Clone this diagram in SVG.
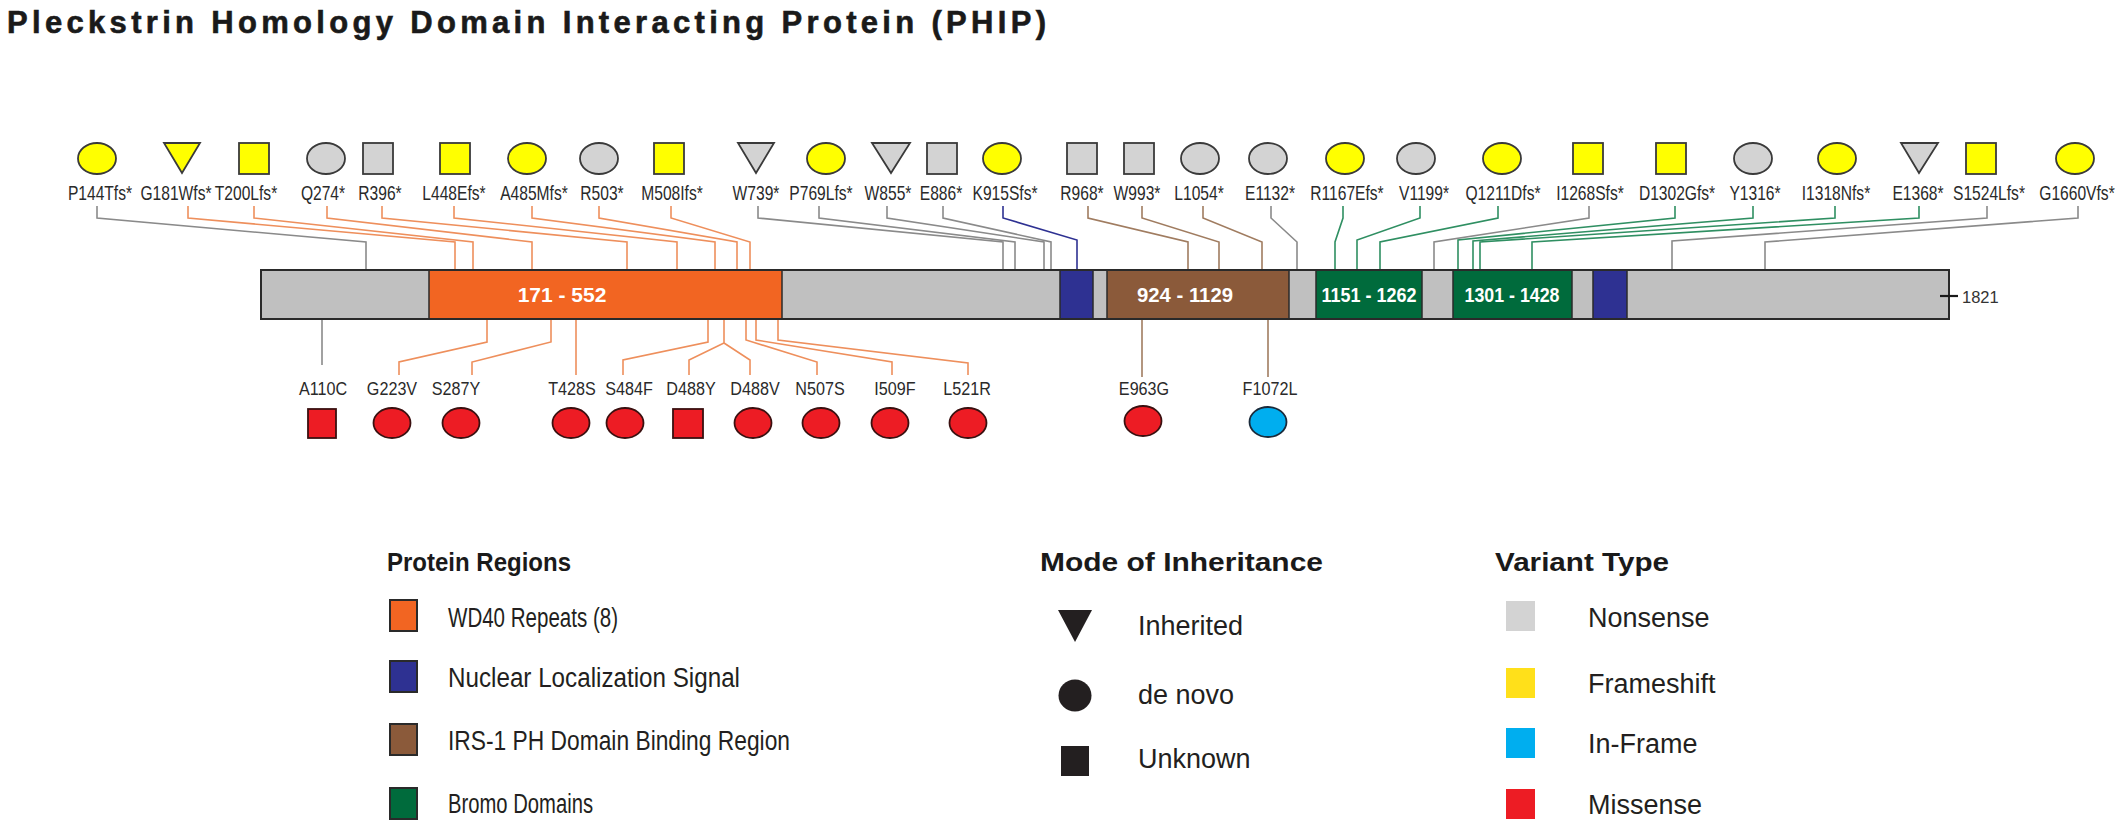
<svg xmlns="http://www.w3.org/2000/svg" width="2128" height="826" viewBox="0 0 2128 826">
<style>
.title{font-family:"Liberation Sans",Arial,sans-serif;font-weight:bold;font-size:31px;fill:#1a1a1a;stroke:#1a1a1a;stroke-width:0.6}
.lt{font-family:"Liberation Sans",Arial,sans-serif;font-size:20px;fill:#2a2a2a;text-anchor:middle}
.lb{font-family:"Liberation Sans",Arial,sans-serif;font-size:19px;fill:#2a2a2a;text-anchor:middle}
.dl{font-family:"Liberation Sans",Arial,sans-serif;font-weight:bold;font-size:21px;fill:#ffffff;text-anchor:middle}
.len{font-family:"Liberation Sans",Arial,sans-serif;font-size:16.5px;fill:#333}
.lh{font-family:"Liberation Sans",Arial,sans-serif;font-weight:bold;font-size:25px;fill:#1a1a1a}
.lx{font-family:"Liberation Sans",Arial,sans-serif;font-size:27px;fill:#231f20}
.fs{fill:#FFFF00;stroke:#3a3a3a;stroke-width:1.8}
.ns{fill:#D3D3D3;stroke:#3a3a3a;stroke-width:1.8}
.ms{fill:#ED1C24;stroke:#3a1010;stroke-width:1.8}
.ifr{fill:#00AEEF;stroke:#1a2a3a;stroke-width:1.8}
.c{fill:none;stroke-width:1.6}
.cg{stroke:#8a8a8a}
.co{stroke:#EE8F5C}
.cb{stroke:#2E3192}
.cr{stroke:#A07C60}
.cgr{stroke:#2F8F62}
.seg{stroke:#2a2a2a;stroke-width:1.5}
</style>

<text class="title" x="7" y="33" textLength="1039" lengthAdjust="spacing">Pleckstrin Homology Domain Interacting Protein (PHIP)</text>

<!-- connectors -->
<g id="connectors">
<path class="c cg" d="M97 206V218L366 242V270"/>
<path class="c co" d="M188 206V218L455 242V270"/>
<path class="c co" d="M254 206V218L473 242V270"/>
<path class="c co" d="M327 206V218L532 242V270"/>
<path class="c co" d="M382 206V218L627 242V270"/>
<path class="c co" d="M454 206V218L677 242V270"/>
<path class="c co" d="M532 206V218L715 242V270"/>
<path class="c co" d="M599 206V218L737 242V270"/>
<path class="c co" d="M671 206V218L750 242V270"/>
<path class="c cg" d="M758 206V218L1003 242V270"/>
<path class="c cg" d="M819 206V218L1015 242V270"/>
<path class="c cg" d="M887 206V218L1044 242V270"/>
<path class="c cg" d="M943 206V218L1051 242V270"/>
<path class="c cb" d="M1003 206V218L1077 240V270"/>
<path class="c cr" d="M1088 206V218L1188 242V270"/>
<path class="c cr" d="M1142 206V218L1219 242V270"/>
<path class="c cr" d="M1203 206V218L1262 242V270"/>
<path class="c cg" d="M1271 206V218L1297 242V270"/>
<path class="c cgr" d="M1343 206V218L1335 242V270"/>
<path class="c cgr" d="M1420 206V218L1357 240V270"/>
<path class="c cgr" d="M1498 206V218L1380 242V270"/>
<path class="c cg" d="M1589 206V218L1434 242V270"/>
<path class="c cgr" d="M1675 206V218L1458 240V270"/>
<path class="c cgr" d="M1753 206V218L1473 241V270"/>
<path class="c cgr" d="M1835 206V218L1480 242V270"/>
<path class="c cgr" d="M1919 206V218L1532 242V270"/>
<path class="c cg" d="M1987 206V218L1672 241V270"/>
<path class="c cg" d="M2078 206V218L1765 242V270"/>
<!-- bottom -->
<path class="c cg" d="M322 319V365"/>
<path class="c co" d="M487 319V342L399 362V375"/>
<path class="c co" d="M551 319V342L472 362V375"/>
<path class="c co" d="M576 319V375"/>
<path class="c co" d="M708 319V342L623 360V375"/>
<path class="c co" d="M724 319V343L689 360V375"/>
<path class="c co" d="M724 343L750 360V375"/>
<path class="c co" d="M746 319V340L817 362V375"/>
<path class="c co" d="M756 319V340L892 362V375"/>
<path class="c co" d="M778 319V340L968 363V375"/>
<path class="c cr" d="M1142 319V377"/>
<path class="c cr" d="M1268 319V377"/>
</g>

<!-- protein bar -->
<g id="protein">
<rect x="261" y="270" width="1688" height="49" fill="#C0C0C0"/>
<rect class="seg" x="429" y="270" width="353" height="49" fill="#F26522"/>
<rect class="seg" x="1060" y="270" width="33" height="49" fill="#2E3192"/>
<rect class="seg" x="1107" y="270" width="182" height="49" fill="#8B5A3A"/>
<rect class="seg" x="1316" y="270" width="106" height="49" fill="#006B3C"/>
<rect class="seg" x="1453" y="270" width="119" height="49" fill="#006B3C"/>
<rect class="seg" x="1593" y="270" width="34" height="49" fill="#2E3192"/>
<rect x="261" y="270" width="1688" height="49" fill="none" stroke="#2a2a2a" stroke-width="2"/>
<text class="dl" x="562" y="302">171 - 552</text>
<text class="dl" x="1185" y="302" textLength="96" lengthAdjust="spacingAndGlyphs">924 - 1129</text>
<text class="dl" x="1369" y="302" textLength="95" lengthAdjust="spacingAndGlyphs">1151 - 1262</text>
<text class="dl" x="1512" y="302" textLength="95" lengthAdjust="spacingAndGlyphs">1301 - 1428</text>
<path d="M1940 296H1958" stroke="#1a1a1a" stroke-width="2.2"/>
<text class="len" x="1962" y="303">1821</text>
</g>

<!-- top variants -->
<g id="v-P144Tfs"><ellipse class="fs" cx="97" cy="158.5" rx="19" ry="15.5"/><text class="lt" transform="translate(100,200) scale(0.78,1)">P144Tfs*</text></g>
<g id="v-G181Wfs"><path class="fs" d="M164 143H200L182 173Z"/><text class="lt" transform="translate(176,200) scale(0.78,1)">G181Wfs*</text></g>
<g id="v-T200Lfs"><rect class="fs" x="239" y="143" width="30" height="31"/><text class="lt" transform="translate(246,200) scale(0.78,1)">T200Lfs*</text></g>
<g id="v-Q274"><ellipse class="ns" cx="326" cy="158.5" rx="19" ry="15.5"/><text class="lt" transform="translate(323,200) scale(0.78,1)">Q274*</text></g>
<g id="v-R396"><rect class="ns" x="363" y="143" width="30" height="31"/><text class="lt" transform="translate(380,200) scale(0.78,1)">R396*</text></g>
<g id="v-L448Efs"><rect class="fs" x="440" y="143" width="30" height="31"/><text class="lt" transform="translate(454,200) scale(0.78,1)">L448Efs*</text></g>
<g id="v-A485Mfs"><ellipse class="fs" cx="527" cy="158.5" rx="19" ry="15.5"/><text class="lt" transform="translate(534,200) scale(0.78,1)">A485Mfs*</text></g>
<g id="v-R503"><ellipse class="ns" cx="599" cy="158.5" rx="19" ry="15.5"/><text class="lt" transform="translate(602,200) scale(0.78,1)">R503*</text></g>
<g id="v-M508Ifs"><rect class="fs" x="654" y="143" width="30" height="31"/><text class="lt" transform="translate(672,200) scale(0.78,1)">M508Ifs*</text></g>
<g id="v-W739"><path class="ns" d="M738 143H774L756 173Z"/><text class="lt" transform="translate(756,200) scale(0.78,1)">W739*</text></g>
<g id="v-P769Lfs"><ellipse class="fs" cx="826" cy="158.5" rx="19" ry="15.5"/><text class="lt" transform="translate(821,200) scale(0.78,1)">P769Lfs*</text></g>
<g id="v-W855"><path class="ns" d="M872 143H910L891 173Z"/><text class="lt" transform="translate(888,200) scale(0.78,1)">W855*</text></g>
<g id="v-E886"><rect class="ns" x="927" y="143" width="30" height="31"/><text class="lt" transform="translate(941,200) scale(0.78,1)">E886*</text></g>
<g id="v-K915Sfs"><ellipse class="fs" cx="1002" cy="158.5" rx="19" ry="15.5"/><text class="lt" transform="translate(1005,200) scale(0.78,1)">K915Sfs*</text></g>
<g id="v-R968"><rect class="ns" x="1067" y="143" width="30" height="31"/><text class="lt" transform="translate(1082,200) scale(0.78,1)">R968*</text></g>
<g id="v-W993"><rect class="ns" x="1124" y="143" width="30" height="31"/><text class="lt" transform="translate(1137,200) scale(0.78,1)">W993*</text></g>
<g id="v-L1054"><ellipse class="ns" cx="1200" cy="158.5" rx="19" ry="15.5"/><text class="lt" transform="translate(1199,200) scale(0.78,1)">L1054*</text></g>
<g id="v-E1132"><ellipse class="ns" cx="1268" cy="158.5" rx="19" ry="15.5"/><text class="lt" transform="translate(1270,200) scale(0.78,1)">E1132*</text></g>
<g id="v-R1167Efs"><ellipse class="fs" cx="1345" cy="158.5" rx="19" ry="15.5"/><text class="lt" transform="translate(1347,200) scale(0.78,1)">R1167Efs*</text></g>
<g id="v-V1199"><ellipse class="ns" cx="1416" cy="158.5" rx="19" ry="15.5"/><text class="lt" transform="translate(1424,200) scale(0.78,1)">V1199*</text></g>
<g id="v-Q1211Dfs"><ellipse class="fs" cx="1502" cy="158.5" rx="19" ry="15.5"/><text class="lt" transform="translate(1503,200) scale(0.78,1)">Q1211Dfs*</text></g>
<g id="v-I1268Sfs"><rect class="fs" x="1573" y="143" width="30" height="31"/><text class="lt" transform="translate(1590,200) scale(0.78,1)">I1268Sfs*</text></g>
<g id="v-D1302Gfs"><rect class="fs" x="1656" y="143" width="30" height="31"/><text class="lt" transform="translate(1677,200) scale(0.78,1)">D1302Gfs*</text></g>
<g id="v-Y1316"><ellipse class="ns" cx="1753" cy="158.5" rx="19" ry="15.5"/><text class="lt" transform="translate(1755,200) scale(0.78,1)">Y1316*</text></g>
<g id="v-I1318Nfs"><ellipse class="fs" cx="1837" cy="158.5" rx="19" ry="15.5"/><text class="lt" transform="translate(1836,200) scale(0.78,1)">I1318Nfs*</text></g>
<g id="v-E1368"><path class="ns" d="M1901 143H1938L1919 173Z"/><text class="lt" transform="translate(1918,200) scale(0.78,1)">E1368*</text></g>
<g id="v-S1524Lfs"><rect class="fs" x="1966" y="143" width="30" height="31"/><text class="lt" transform="translate(1989,200) scale(0.78,1)">S1524Lfs*</text></g>
<g id="v-G1660Vfs"><ellipse class="fs" cx="2075" cy="158.5" rx="19" ry="15.5"/><text class="lt" transform="translate(2077,200) scale(0.78,1)">G1660Vfs*</text></g>

<!-- bottom variants -->
<g id="v-A110C"><text class="lb" transform="translate(323,395) scale(0.85,1)">A110C</text><rect class="ms" x="308" y="409" width="28" height="29"/></g>
<g id="v-G223V"><text class="lb" transform="translate(392,395) scale(0.85,1)">G223V</text><ellipse class="ms" cx="392" cy="423" rx="18.5" ry="15"/></g>
<g id="v-S287Y"><text class="lb" transform="translate(456,395) scale(0.85,1)">S287Y</text><ellipse class="ms" cx="461" cy="423" rx="18.5" ry="15"/></g>
<g id="v-T428S"><text class="lb" transform="translate(572,395) scale(0.85,1)">T428S</text><ellipse class="ms" cx="571" cy="423" rx="18.5" ry="15"/></g>
<g id="v-S484F"><text class="lb" transform="translate(629,395) scale(0.85,1)">S484F</text><ellipse class="ms" cx="625" cy="423" rx="18.5" ry="15"/></g>
<g id="v-D488Y"><text class="lb" transform="translate(691,395) scale(0.85,1)">D488Y</text><rect class="ms" x="673" y="409" width="30" height="29"/></g>
<g id="v-D488V"><text class="lb" transform="translate(755,395) scale(0.85,1)">D488V</text><ellipse class="ms" cx="753" cy="423" rx="18.5" ry="15"/></g>
<g id="v-N507S"><text class="lb" transform="translate(820,395) scale(0.85,1)">N507S</text><ellipse class="ms" cx="821" cy="423" rx="18.5" ry="15"/></g>
<g id="v-I509F"><text class="lb" transform="translate(895,395) scale(0.85,1)">I509F</text><ellipse class="ms" cx="890" cy="423" rx="18.5" ry="15"/></g>
<g id="v-L521R"><text class="lb" transform="translate(967,395) scale(0.85,1)">L521R</text><ellipse class="ms" cx="968" cy="423" rx="18.5" ry="15"/></g>
<g id="v-E963G"><text class="lb" transform="translate(1144,395) scale(0.85,1)">E963G</text><ellipse class="ms" cx="1143" cy="421" rx="18.5" ry="15"/></g>
<g id="v-F1072L"><text class="lb" transform="translate(1270,395) scale(0.85,1)">F1072L</text><ellipse class="ifr" cx="1268" cy="422" rx="18.5" ry="15"/></g>

<!-- legend: protein regions -->
<g id="legend-regions">
<text class="lh" x="387" y="571" textLength="184" lengthAdjust="spacingAndGlyphs">Protein Regions</text>
<rect x="390" y="600" width="27" height="31" fill="#F26522" stroke="#2a2a2a" stroke-width="2"/>
<text class="lx" x="448" y="627" textLength="170" lengthAdjust="spacingAndGlyphs">WD40 Repeats (8)</text>
<rect x="390" y="661" width="27" height="31" fill="#2E3192" stroke="#2a2a2a" stroke-width="2"/>
<text class="lx" x="448" y="687" textLength="292" lengthAdjust="spacingAndGlyphs">Nuclear Localization Signal</text>
<rect x="390" y="724" width="27" height="31" fill="#8B5A3A" stroke="#2a2a2a" stroke-width="2"/>
<text class="lx" x="448" y="750" textLength="342" lengthAdjust="spacingAndGlyphs">IRS-1 PH Domain Binding Region</text>
<rect x="390" y="788" width="27" height="31" fill="#006B3C" stroke="#2a2a2a" stroke-width="2"/>
<text class="lx" x="448" y="813" textLength="145" lengthAdjust="spacingAndGlyphs">Bromo Domains</text>
</g>

<!-- legend: mode of inheritance -->
<g id="legend-mode">
<text class="lh" x="1040" y="571" textLength="283" lengthAdjust="spacingAndGlyphs">Mode of Inheritance</text>
<path d="M1058 610H1092L1075 642Z" fill="#231F20"/>
<text class="lx" x="1138" y="635">Inherited</text>
<ellipse cx="1075" cy="695.5" rx="16.5" ry="16" fill="#231F20"/>
<text class="lx" x="1138" y="704">de novo</text>
<rect x="1061" y="746" width="28" height="30" fill="#231F20"/>
<text class="lx" x="1138" y="768">Unknown</text>
</g>

<!-- legend: variant type -->
<g id="legend-variant">
<text class="lh" x="1495" y="571" textLength="174" lengthAdjust="spacingAndGlyphs">Variant Type</text>
<rect x="1506" y="601" width="29" height="30" fill="#D3D3D3"/>
<text class="lx" x="1588" y="627">Nonsense</text>
<rect x="1506" y="668" width="29" height="30" fill="#FFE01A"/>
<text class="lx" x="1588" y="693">Frameshift</text>
<rect x="1506" y="728" width="29" height="30" fill="#00AEEF"/>
<text class="lx" x="1588" y="753">In-Frame</text>
<rect x="1506" y="789" width="29" height="30" fill="#ED1C24"/>
<text class="lx" x="1588" y="814">Missense</text>
</g>
</svg>
